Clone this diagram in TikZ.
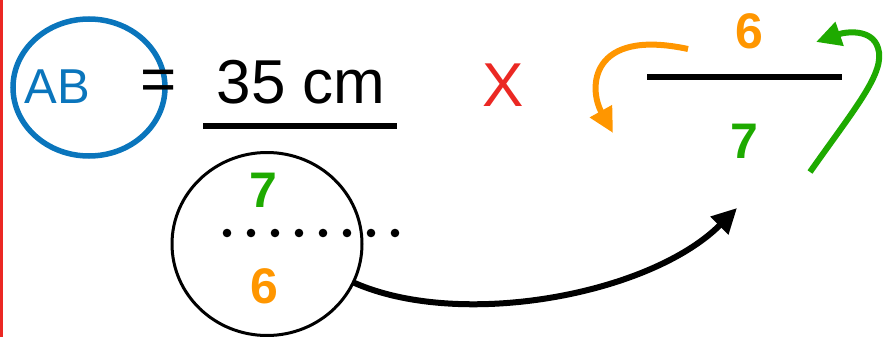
\documentclass[tikz,border=0pt]{standalone}
\usepackage{fontspec}
\setmainfont{Liberation Sans}
\usetikzlibrary{arrows.meta,shapes.geometric}
\definecolor{abblue}{RGB}{10,117,188}
\definecolor{numorange}{RGB}{255,150,0}
\definecolor{numgreen}{RGB}{30,170,0}
\definecolor{xred}{RGB}{235,40,35}
\tikzset{
  bigtext/.style={inner sep=0pt, outer sep=0pt, font=\fontsize{62}{62}\selectfont},
  digit/.style={inner sep=0pt, outer sep=0pt, font=\fontsize{50}{50}\selectfont\bfseries},
  ring/.style={ellipse, draw, inner sep=0pt, outer sep=0pt},
  bigtip/.style={-{Triangle[length=25pt,width=24pt]}},
  barline/.style={line width=5.5pt, black},
  swap/.style={line width=6pt, bigtip}
}
\begin{document}
\begin{tikzpicture}[x=1pt,y=-1pt]
\useasboundingbox (0,0) rectangle (889,337);
% red margin rule
\draw[xred, line width=3pt] (1.5,0) -- (1.5,337);

% AB = 35 cm
\node[ring, abblue, line width=5.5pt, minimum width=152pt, minimum height=137pt] (abring) at (89,87.5) {};
\node[inner sep=0pt, font=\fontsize{49}{49}\selectfont, text=abblue] (ab) at (57.5,87) {AB};
\node[bigtext] (eq) at (158.5,85.5) {=};
\node[bigtext] (len) at (301,82.5) {35 cm};
\coordinate (lenL) at (203,126);
\coordinate (lenR) at (397,126);
\draw[barline] (lenL) -- (lenR);

% circled denominator
\node[ring, line width=3pt, minimum width=190pt, minimum height=183pt] (circ) at (267,244) {};
\node[digit, text=numgreen] (seven) at (263,190) {7};
\node[digit, text=numorange] (six) at (264,286) {6};
\foreach \i in {0,...,7}
  \fill (227+24*\i,233) circle[radius=4.3pt];

% times sign
\node[bigtext, text=xred] (times) at (503,85.5) {X};

% inverted fraction
\node[digit, text=numorange] (top) at (749,31) {6};
\node[digit, text=numgreen] (bot) at (744,141) {7};
\coordinate (fracL) at (647,77);
\coordinate (fracR) at (842,77);
\draw[barline] (fracL) -- (fracR);

% swap arrows
\coordinate (oS) at (688,49);
\coordinate (oE) at (613,133);
\draw[numorange, swap] (oS) .. controls (590,28) and (588,88) .. (oE);
\coordinate (gS) at (810,172);
\coordinate (gM) at (878,48);
\coordinate (gE) at (816,42);
\draw[numgreen, swap] (gS) .. controls (855,108) and (886,72) .. (gM)
  .. controls (872,28) and (845,32) .. (gE);

% move arrow
\coordinate (mE) at (737,208);
\draw[swap] (circ.-24) .. controls (460,330) and (650,295) .. (mE);
\end{tikzpicture}
\end{document}
